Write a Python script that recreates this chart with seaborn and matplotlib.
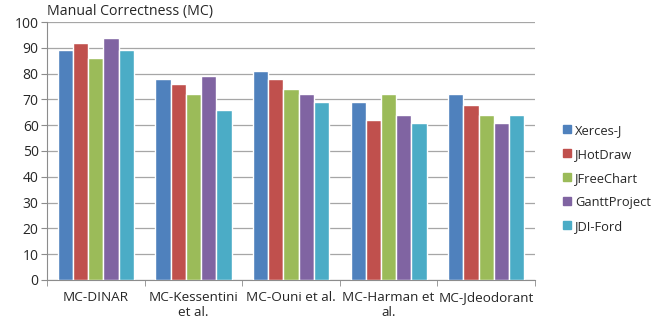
import pandas as pd
import seaborn as sns
import matplotlib.pyplot as plt
from matplotlib.lines import Line2D

# values
methods = ['MC-DINAR', 'MC-Kessentini\net al.', 'MC-Ouni et al.', 'MC-Harman et\nal.', 'MC-Jdeodorant']
projects = ['Xerces-J', 'JHotDraw', 'JFreeChart', 'GanttProject', 'JDI-Ford']
xerces = [89, 78, 81, 69, 72]
jhotdraw = [92, 76, 78, 62, 68]
jfreechart = [86, 72, 74, 72, 64]
gantt = [94, 79, 72, 64, 61]
jdiford = [89, 66, 69, 61, 64]
colors = ['#4F81BD', '#C0504D', '#9BBB59', '#8064A2', '#4BACC6']

rows = []
for proj, vals in zip(projects, [xerces, jhotdraw, jfreechart, gantt, jdiford]):
    for m, v in zip(methods, vals):
        rows.append({'Method': m, 'Project': proj, 'MC': v})
df = pd.DataFrame(rows)

sns.set_style('white')
plt.rcParams['font.family'] = ['Open Sans', 'DejaVu Sans']

fig = plt.figure(figsize=(6.63, 3.24), dpi=100)
ax = fig.add_axes([0.071, 0.136, 0.736, 0.796])
sns.barplot(data=df, x='Method', y='MC', hue='Project', palette=colors,
            width=0.78, saturation=1, ax=ax, legend=False, zorder=3)

ax.set_ylim(0, 100)
ax.set_yticks(range(0, 101, 10))
ax.set_xlim(-0.5, len(methods) - 0.5)
ax.yaxis.grid(True, color='#a6a6a6', linewidth=0.9, zorder=0)
ax.set_axisbelow(True)
for s in ['top', 'right']:
    ax.spines[s].set_visible(False)
for s in ['left', 'bottom']:
    ax.spines[s].set_color('#8c8c8c')
ax.tick_params(axis='y', labelsize=10, length=4, color='#8c8c8c', left=True, pad=2)
ax.tick_params(axis='x', labelsize=9.7, length=0, pad=8)
ax.set_xticks([i + 0.5 for i in range(-1, len(methods))], minor=True)
ax.tick_params(axis='x', which='minor', length=4, color='#8c8c8c', bottom=True)
ax.set_xlabel('')
ax.set_ylabel('')
ax.text(0.0, 1.012, 'Manual Correctness (MC)', transform=ax.transAxes,
        fontsize=10.2, ha='left', va='bottom')

handles = [Line2D([0], [0], marker='s', linestyle='', markersize=6,
                  markerfacecolor=c, markeredgecolor=c) for c in colors]
fig.legend(handles, projects, loc='center left', bbox_to_anchor=(0.828, 0.45),
           frameon=False, fontsize=9.3, handletextpad=0.1, labelspacing=0.85,
           handlelength=1.0)

fig.savefig('out.png', dpi=100)
